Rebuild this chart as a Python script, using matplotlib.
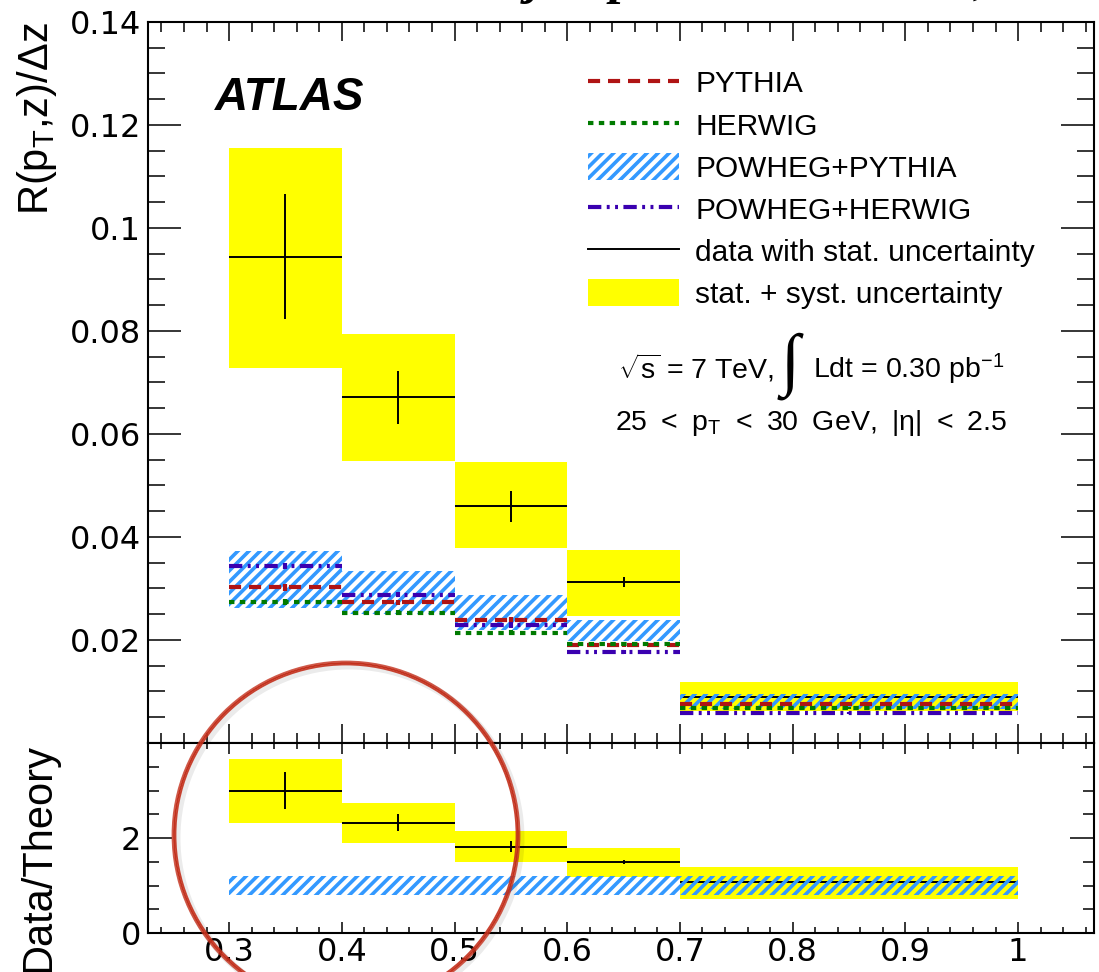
import matplotlib
matplotlib.use("Agg")
import matplotlib.pyplot as plt
from matplotlib.patches import Patch, Ellipse
from matplotlib.lines import Line2D
from matplotlib.ticker import MultipleLocator, FixedLocator, FuncFormatter
import numpy as np

plt.rcParams['font.family'] = ['Liberation Sans', 'DejaVu Sans']
plt.rcParams['mathtext.fontset'] = 'custom'
plt.rcParams['mathtext.rm'] = 'Liberation Sans'
plt.rcParams['mathtext.it'] = 'Liberation Sans:italic'
plt.rcParams['mathtext.bf'] = 'Liberation Sans:bold'
plt.rcParams['hatch.linewidth'] = 2.6

# z bins
z_edges = [0.3, 0.4, 0.5, 0.6, 0.7, 1.0]

# measured R(pT, z)/dz
data_val = [0.0944, 0.0671, 0.0460, 0.0312, 0.0090]
data_stat = [0.0121, 0.0052, 0.0030, 0.0010, 0.0004]
data_tot_lo = [0.0729, 0.0548, 0.0378, 0.0247, 0.0062]
data_tot_hi = [0.1156, 0.0794, 0.0545, 0.0375, 0.0118]

# MC predictions
pythia = [0.0302, 0.0273, 0.0239, 0.0190, 0.0076]
herwig = [0.0274, 0.0253, 0.0214, 0.0192, 0.0068]
powheg_herwig = [0.0344, 0.0288, 0.0229, 0.0177, 0.0058]
mc_stat = [0.0006, 0.0005, 0.0005, 0.0004, 0.0002]
powheg_pythia_lo = [0.0262, 0.0250, 0.0219, 0.0198, 0.0066]
powheg_pythia_hi = [0.0372, 0.0334, 0.0288, 0.0238, 0.0096]

# Data / Theory
ratio_val = [3.00, 2.32, 1.82, 1.50, 1.07]
ratio_stat = [0.38, 0.18, 0.12, 0.04, 0.02]
ratio_tot_lo = [2.32, 1.90, 1.49, 1.18, 0.72]
ratio_tot_hi = [3.66, 2.74, 2.15, 1.79, 1.40]
ratio_theory_lo = [0.80, 0.80, 0.80, 0.80, 0.80]
ratio_theory_hi = [1.20, 1.20, 1.20, 1.20, 1.20]

c_yellow = '#ffff00'
c_blue = '#3399ff'
c_py = '#b01414'
c_hw = '#007a00'
c_phw = '#3a00b0'

ls_py = (0, (2.9, 1.9))
ls_hw = (0, (1.3, 1.3))
ls_phw = (0, (3.2, 1.3, 0.7, 1.3, 0.7, 1.3))
HATCH = '///'

TICK_FONT = {'family': 'DejaVu Sans', 'size': 23}

lo = np.array(z_edges[:-1])
hi = np.array(z_edges[1:])
ctr = 0.5 * (lo + hi)
wid = hi - lo

fig = plt.figure(figsize=(10.99, 9.72), dpi=100)
ax = fig.add_axes([0.1347, 0.2356, 0.8608, 0.7418])
axr = fig.add_axes([0.1347, 0.0401, 0.8608, 0.1955])

XLIM = (0.2281, 1.0674)

# ---- main panel ----
ax.bar(lo, np.array(data_tot_hi) - np.array(data_tot_lo), bottom=data_tot_lo,
       width=wid, align='edge', color=c_yellow, linewidth=0, zorder=1)
ax.hlines(data_val, lo, hi, color='black', lw=1.4, zorder=2)
ax.vlines(ctr, np.array(data_val) - np.array(data_stat),
          np.array(data_val) + np.array(data_stat), color='black', lw=1.4, zorder=2)
ax.bar(lo, np.array(powheg_pythia_hi) - np.array(powheg_pythia_lo),
       bottom=powheg_pythia_lo, width=wid, align='edge', facecolor='none',
       edgecolor=c_blue, hatch=HATCH, linewidth=0, zorder=3)
for vals, col, ls in [(pythia, c_py, ls_py), (herwig, c_hw, ls_hw),
                      (powheg_herwig, c_phw, ls_phw)]:
    ax.hlines(vals, lo, hi, colors=col, linestyles=[ls], lw=3, zorder=4)
    ax.vlines(ctr, np.array(vals) - np.array(mc_stat),
              np.array(vals) + np.array(mc_stat), colors=col, lw=3, zorder=4)

ax.set_xlim(*XLIM)
ax.set_ylim(0, 0.14)
ax.yaxis.set_major_locator(MultipleLocator(0.02))
ax.yaxis.set_minor_locator(MultipleLocator(0.005))
ax.xaxis.set_major_locator(MultipleLocator(0.1))
ax.xaxis.set_minor_locator(MultipleLocator(0.02))
ax.yaxis.set_major_formatter(FuncFormatter(lambda v, p: '' if abs(v) < 1e-9 else f'{v:g}'))
ax.tick_params(which='both', direction='in', top=True, right=True, width=1.1,
               labelbottom=False, pad=5)
ax.tick_params(axis='y', which='major', length=24)
ax.tick_params(axis='y', which='minor', length=12)
ax.tick_params(axis='x', which='major', length=14)
ax.tick_params(axis='x', which='minor', length=7)
for lab in ax.get_yticklabels():
    lab.set_fontfamily(TICK_FONT['family'])
    lab.set_fontsize(TICK_FONT['size'])
for s in ax.spines.values():
    s.set_linewidth(1.5)
ax.set_ylabel(r'R(p$_{\mathrm{T}}$,z)/$\mathrm{\Delta}$z', fontsize=30, loc='top')
ax.yaxis.set_label_coords(-0.094, 1.0)

ax.text(0.0708, 0.878, 'ATLAS', transform=ax.transAxes, fontsize=33,
        fontweight='bold', fontstyle='italic', va='baseline')

handles = [
    Line2D([], [], color=c_py, lw=3, linestyle=ls_py),
    Line2D([], [], color=c_hw, lw=3, linestyle=ls_hw),
    Patch(facecolor='none', edgecolor=c_blue, hatch=HATCH, linewidth=0),
    Line2D([], [], color=c_phw, lw=3, linestyle=ls_phw),
    Line2D([], [], color='black', lw=1.4),
    Patch(facecolor=c_yellow, edgecolor='none'),
]
labels = ['PYTHIA', 'HERWIG', 'POWHEG+PYTHIA', 'POWHEG+HERWIG',
          'data with stat. uncertainty', 'stat. + syst. uncertainty']
ax.legend(handles, labels, loc='upper left', bbox_to_anchor=(0.465, 0.935),
          frameon=False, fontsize=21.5, handlelength=3.05, handleheight=1.0,
          handletextpad=0.55, labelspacing=0.42, borderpad=0, borderaxespad=0)

ax.text(0.497, 0.506, r'$\sqrt{\mathrm{s}}$ = 7 TeV,', transform=ax.transAxes,
        fontsize=20.5, va='baseline')
ax.text(0.669, 0.522, '\u222b', transform=ax.transAxes, fontsize=50,
        family='Liberation Serif', va='center', ha='left')
ax.text(0.703, 0.506, r'Ldt = 0.30 pb$^{\mathrm{-1}}$', transform=ax.transAxes,
        fontsize=20.5, va='baseline')
ax.text(0.494, 0.434,
        '25\u2002<\u2002p$_{\\mathrm{T}}$\u2002<\u200230\u2002GeV,\u2002|$\\mathrm{\\eta}$|\u2002<\u20022.5',
        transform=ax.transAxes, fontsize=20.5, va='baseline')

# ---- ratio panel ----
axr.bar(lo, np.array(ratio_tot_hi) - np.array(ratio_tot_lo), bottom=ratio_tot_lo,
        width=wid, align='edge', color=c_yellow, linewidth=0, zorder=1)
axr.hlines(ratio_val, lo, hi, color='black', lw=1.4, zorder=2)
axr.vlines(ctr, np.array(ratio_val) - np.array(ratio_stat),
           np.array(ratio_val) + np.array(ratio_stat), color='black', lw=1.4, zorder=2)
axr.bar(lo, np.array(ratio_theory_hi) - np.array(ratio_theory_lo),
        bottom=ratio_theory_lo, width=wid, align='edge', facecolor='none',
        edgecolor=c_blue, hatch=HATCH, linewidth=0, zorder=3)
axr.set_xlim(*XLIM)
axr.set_ylim(0, 4)
axr.xaxis.set_major_locator(MultipleLocator(0.1))
axr.xaxis.set_minor_locator(MultipleLocator(0.02))
axr.xaxis.set_major_formatter(FuncFormatter(lambda v, p: f'{v:g}'))
axr.yaxis.set_major_locator(FixedLocator([0, 2, 4]))
axr.yaxis.set_minor_locator(MultipleLocator(0.5))
axr.yaxis.set_major_formatter(FuncFormatter(lambda v, p: '' if v > 3 else f'{v:g}'))
axr.tick_params(which='both', direction='in', top=True, right=True, width=1.1)
axr.tick_params(axis='y', which='major', length=17, pad=5)
axr.tick_params(axis='y', which='minor', length=8)
axr.tick_params(axis='x', which='major', length=8, pad=3)
axr.tick_params(axis='x', which='minor', length=4)
for lab in axr.get_xticklabels() + axr.get_yticklabels():
    lab.set_fontfamily(TICK_FONT['family'])
    lab.set_fontsize(TICK_FONT['size'])
for s in axr.spines.values():
    s.set_linewidth(1.5)
axr.set_ylabel('Data/Theory', fontsize=30, loc='top')
axr.yaxis.set_label_coords(-0.094, 1.0)

# partial heading above the frame (only its lower part falls inside the canvas)
fig.text(527 / 1099, 1 + 7 / 972, 'jets p / z distributions,',
         family='Liberation Serif', fontweight='bold', fontstyle='italic',
         fontsize=37, va='baseline', ha='left')

# hand-drawn highlight circle
cx, cy, r = 346 / 1099, 1 - 835 / 972, 172
fig.patches.append(Ellipse((cx + 3 / 1099, cy - 3 / 972), 2 * r / 1099, 2 * r / 972,
                           transform=fig.transFigure, facecolor='none',
                           edgecolor='#000000', alpha=0.08, lw=5))
for dr, a in [(-1.5, 0.9), (0, 1.0), (1.5, 0.8)]:
    fig.patches.append(Ellipse((cx, cy), 2 * (r + dr) / 1099, 2 * (r + dr) / 972,
                               transform=fig.transFigure, facecolor='none',
                               edgecolor='#c3301c', alpha=a, lw=1.3))

fig.savefig('out.png', dpi=100)
